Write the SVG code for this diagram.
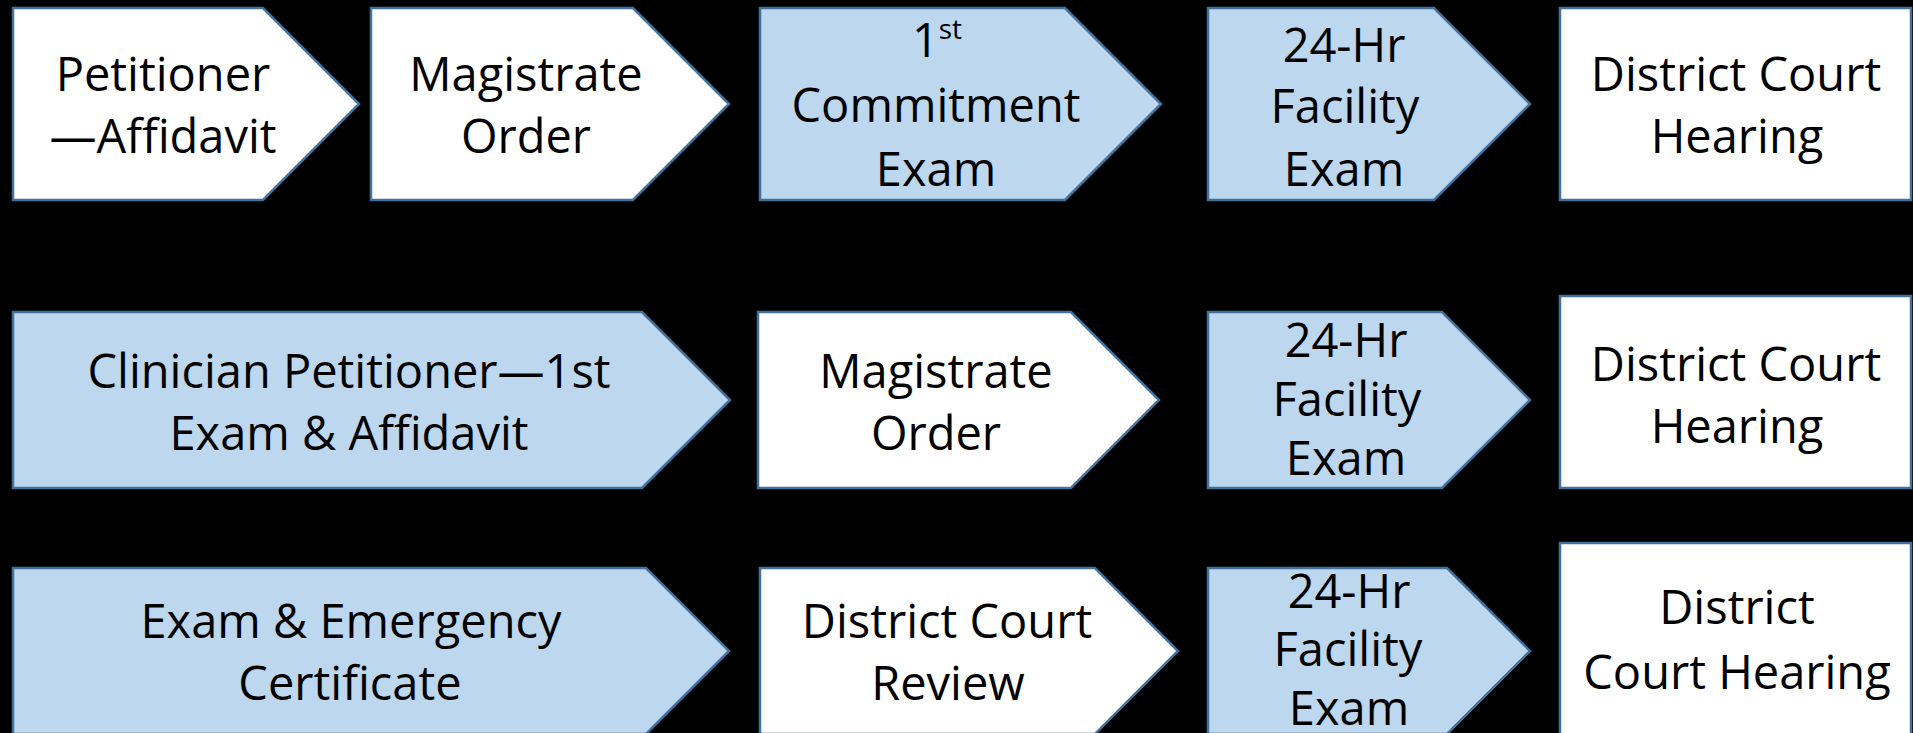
<svg xmlns="http://www.w3.org/2000/svg" width="1913" height="733" viewBox="0 0 1913 733">
  <style>
    .step { stroke: #41719C; stroke-width: 2.5; stroke-linejoin: miter; }
    .blue { fill: #BDD7EE; }
    .white { fill: #FFFFFF; }
    text { font-family: "Open Sans", "Liberation Sans", sans-serif; font-size: 47px; fill: #000000; text-anchor: middle; }
    .sup { font-size: 28px; }
  </style>
  <rect x="0" y="0" width="1913" height="733" fill="#000000"/>

  <!-- Row 1: petition by affidavit -->
  <g id="r1-petitioner">
    <path class="step white" d="M13,8 H263 L359,104 L263,200 H13 Z"/>
    <text x="163" y="91">Petitioner</text>
    <text x="163" y="153">—Affidavit</text>
  </g>
  <g id="r1-magistrate">
    <path class="step white" d="M371,8 H633 L729,104 L633,200 H371 Z"/>
    <text x="526" y="91">Magistrate</text>
    <text x="526" y="153">Order</text>
  </g>
  <g id="r1-first-exam">
    <path class="step blue" d="M760,8 H1065 L1161,104 L1065,200 H760 Z"/>
    <text x="937" y="57">1<tspan class="sup" dy="-18">st</tspan></text>
    <text x="936" y="122">Commitment</text>
    <text x="936" y="186">Exam</text>
  </g>
  <g id="r1-facility-exam">
    <path class="step blue" d="M1208,8 H1434 L1530,104 L1434,200 H1208 Z"/>
    <text x="1344" y="62">24-Hr</text>
    <text x="1345" y="123">Facility</text>
    <text x="1344" y="186">Exam</text>
  </g>
  <g id="r1-hearing">
    <rect class="step white" x="1560" y="8" width="351" height="192"/>
    <text x="1736" y="91">District Court</text>
    <text x="1737" y="153">Hearing</text>
  </g>

  <!-- Row 2: clinician petition -->
  <g id="r2-clinician">
    <path class="step blue" d="M13,312 H642 L730,400 L642,488 H13 Z"/>
    <text x="349" y="388">Clinician Petitioner—1st</text>
    <text x="349" y="450">Exam &amp; Affidavit</text>
  </g>
  <g id="r2-magistrate">
    <path class="step white" d="M758,312 H1071 L1159,400 L1071,488 H758 Z"/>
    <text x="936" y="388">Magistrate</text>
    <text x="936" y="450">Order</text>
  </g>
  <g id="r2-facility-exam">
    <path class="step blue" d="M1208,312 H1442 L1530,400 L1442,488 H1208 Z"/>
    <text x="1346" y="357">24-Hr</text>
    <text x="1347" y="416">Facility</text>
    <text x="1346" y="475">Exam</text>
  </g>
  <g id="r2-hearing">
    <rect class="step white" x="1560" y="296" width="351" height="192"/>
    <text x="1736" y="381">District Court</text>
    <text x="1737" y="443">Hearing</text>
  </g>

  <!-- Row 3: emergency certificate -->
  <g id="r3-emergency">
    <path class="step blue" d="M13,568 H646 L729,651 L646,734 H13 Z"/>
    <text x="351" y="638">Exam &amp; Emergency</text>
    <text x="350" y="700">Certificate</text>
  </g>
  <g id="r3-review">
    <path class="step white" d="M760,568 H1095 L1178,651 L1095,734 H760 Z"/>
    <text x="947" y="638">District Court</text>
    <text x="948" y="700">Review</text>
  </g>
  <g id="r3-facility-exam">
    <path class="step blue" d="M1208,568 H1447 L1530,651 L1447,734 H1208 Z"/>
    <text x="1349" y="608">24-Hr</text>
    <text x="1348" y="666">Facility</text>
    <text x="1349" y="725">Exam</text>
  </g>
  <g id="r3-hearing">
    <rect class="step white" x="1560" y="543" width="351" height="200"/>
    <text x="1737" y="624">District</text>
    <text x="1737" y="689">Court Hearing</text>
  </g>

  <g id="connectors"/>
</svg>
